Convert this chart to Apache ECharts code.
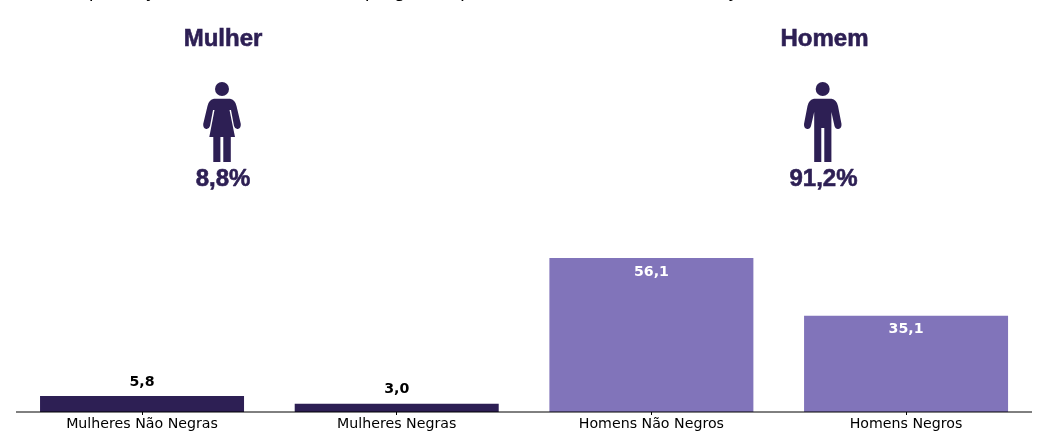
<!DOCTYPE html>
<html>
<head>
<meta charset="utf-8">
<style>html,body{margin:0;padding:0;background:#fff}#c{width:1045px;height:432px}</style>
<script src="https://cdn.jsdelivr.net/npm/echarts@6/dist/echarts.min.js"></script>
</head>
<body>
<div id="c"></div>
<script>
const categories = ['Mulheres Não Negras', 'Mulheres Negras', 'Homens Não Negros', 'Homens Negros'];
const shares = [5.8, 3.0, 56.1, 35.1];
const groupNames = ['Mulher', 'Homem'];
const groupShares = ['8,8%', '91,2%'];
const headline = ', a compensação total mensal nos empregos de pessoas no setor civil de aviação';

const DARK = '#2d1f54';
const LIGHT = '#8174ba';
const BASE_Y = 412;

const womanBody = 'M214 98.8L230 98.8Q235 99.5 236.5 106L240.8 124Q241 128.5 237.7 129Q235 129.3 234 126L231 110L229.5 110L235 137L230.8 137L230.8 162L223.3 162L223.3 137L220.4 137L220.4 162L213.3 162L213.3 137L209.3 137L214.5 110L213 110L210 126Q209 129.3 206.3 129Q203 128.5 203.2 124L207.5 106Q209 99.5 214 98.8Z';
const manBody = 'M814 98.8L831.5 98.8Q836.5 99.5 838 106L841.5 124Q841.8 128.5 838.3 129Q835.5 129.3 834.5 126L831.4 112L831.4 162L824.3 162L824.3 128L821.3 128L821.3 162L814.2 162L814.2 112L811 126Q810 129.3 807.2 129Q803.8 128.5 804 124L807.5 106Q809 99.5 814 98.8Z';

// Pictogram outlines are registered as shapes so the graphic component can place them.
echarts.graphic.registerShape('womanFigure', echarts.graphic.extendPath(womanBody, {}));
echarts.graphic.registerShape('manFigure', echarts.graphic.extendPath(manBody, {}));

function heading(text, x, y) {
  return {
    type: 'text', x: x, y: y,
    style: {
      text: text, fill: DARK, stroke: DARK, lineWidth: 0.6,
      font: 'bold 24px "Liberation Sans"', textAlign: 'center', textVerticalAlign: 'middle'
    }
  };
}

const chart = echarts.init(document.getElementById('c'), null, { renderer: 'canvas' });
chart.setOption({
  animation: false,
  backgroundColor: '#fff',
  grid: { left: 14.7, width: 1018.7, top: BASE_Y - 60 * 2.745, height: 60 * 2.745 },
  xAxis: {
    type: 'category',
    data: categories,
    axisLine: { show: false },
    axisTick: { show: true, alignWithLabel: true, length: 3, lineStyle: { color: '#000', width: 1 } },
    axisLabel: { color: '#000', fontFamily: 'DejaVu Sans', fontSize: 14.2, margin: 5 }
  },
  yAxis: { type: 'value', min: 0, max: 60, show: false, splitLine: { show: false } },
  series: [{
    type: 'bar',
    barWidth: 204,
    data: shares.map((v, i) => ({
      value: v,
      itemStyle: { color: i < 2 ? DARK : LIGHT },
      label: i < 2
        ? { position: 'top', distance: 7, color: '#000' }
        : { position: 'insideTop', distance: 7, color: '#fff' }
    })),
    label: {
      show: true,
      fontFamily: 'DejaVu Sans',
      fontWeight: 'bold',
      fontSize: 14.2,
      formatter: p => p.value.toFixed(1).replace('.', ',')
    }
  }],
  graphic: [
    { type: 'line', shape: { x1: 16, y1: BASE_Y, x2: 1032, y2: BASE_Y }, style: { stroke: '#000', lineWidth: 1 }, z: 10 },
    { type: 'text', x: 22, y: -17, style: { text: headline, fill: '#000', font: '18px "DejaVu Sans"' } },
    heading(groupNames[0], 223, 39),
    heading(groupNames[1], 824.5, 39),
    heading(groupShares[0], 223, 179),
    heading(groupShares[1], 823.5, 179),
    { type: 'circle', shape: { cx: 222, cy: 89, r: 7 }, style: { fill: DARK } },
    { type: 'womanFigure', style: { fill: DARK } },
    { type: 'circle', shape: { cx: 822.7, cy: 89, r: 7 }, style: { fill: DARK } },
    { type: 'manFigure', style: { fill: DARK } }
  ]
});
</script>
</body>
</html>
